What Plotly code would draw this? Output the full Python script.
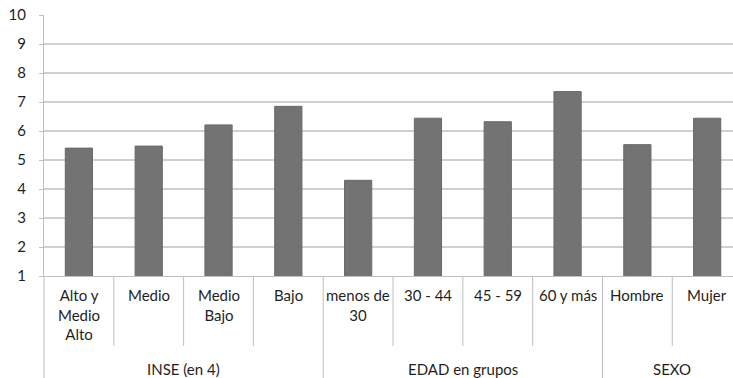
import plotly.graph_objects as go

# Category labels (two levels) and mean values
categories = ["Alto y<br>Medio<br>Alto", "Medio", "Medio<br>Bajo", "Bajo",
              "menos de<br>30", "30 - 44", "45 - 59", "60 y más",
              "Hombre", "Mujer"]
groups = ["INSE (en 4)", "EDAD en grupos", "SEXO"]
group_sizes = [4, 4, 2]
values = [5.41, 5.48, 6.21, 6.85, 4.30, 6.44, 6.32, 7.36, 5.53, 6.44]
y_ticks = [1, 2, 3, 4, 5, 6, 7, 8, 9, 10]

FONT = "Lato"
TEXT = "#1f1f1f"
LINE = "#bfbfbf"

x_idx = list(range(len(categories)))

fig = go.Figure(go.Bar(
    x=x_idx, y=values,
    width=0.39,
    marker=dict(color="#737373", line=dict(color="#6a6a6a", width=1)),
    hoverinfo="skip",
))

shapes = []
annotations = []

# short tick dividers between categories, long dividers between groups
bounds = []
acc = 0
for s in group_sizes:
    acc += s
    bounds.append(acc)
for b in range(1, len(categories)):
    long_line = b in bounds
    shapes.append(dict(type="line", xref="x", yref="paper",
                       x0=b - 0.5, x1=b - 0.5, y0=0,
                       y1=-0.45 if long_line else -0.268,
                       line=dict(color=LINE, width=1)))
# left axis line continued through the label rows
shapes.append(dict(type="line", xref="paper", yref="paper", x0=0, x1=0,
                   y0=0, y1=-0.45, line=dict(color=LINE, width=1)))

# first level labels
for i, c in enumerate(categories):
    annotations.append(dict(x=i, y=-0.03, xref="x", yref="paper",
                            text=c, showarrow=False, yanchor="top",
                            xanchor="center", align="center",
                            font=dict(family=FONT, size=15, color=TEXT)))
# second level labels
start = 0
for g, s in zip(groups, group_sizes):
    annotations.append(dict(x=start + (s - 1) / 2, y=-0.356, xref="x", yref="paper",
                            text=g, showarrow=False, yanchor="middle",
                            xanchor="center",
                            font=dict(family=FONT, size=15, color=TEXT)))
    start += s

fig.update_layout(
    width=733, height=378,
    margin=dict(l=44, r=0, t=15, b=102),
    paper_bgcolor="white", plot_bgcolor="white",
    showlegend=False,
    xaxis=dict(range=[-0.5, 9.37], showticklabels=False, ticks="",
               showgrid=False, zeroline=False, showline=True,
               linecolor=LINE, linewidth=1, fixedrange=True),
    yaxis=dict(range=[1, 10], tickvals=y_ticks, showgrid=True,
               gridcolor="#d0d0d0", gridwidth=1.5, zeroline=False,
               showline=True, linecolor=LINE, linewidth=1,
               ticks="outside", ticklen=4, tickcolor=LINE,
               ticklabelstandoff=10,
               tickfont=dict(family=FONT, size=15, color=TEXT)),
    shapes=shapes,
    annotations=annotations,
)

fig.write_html("out.html")
